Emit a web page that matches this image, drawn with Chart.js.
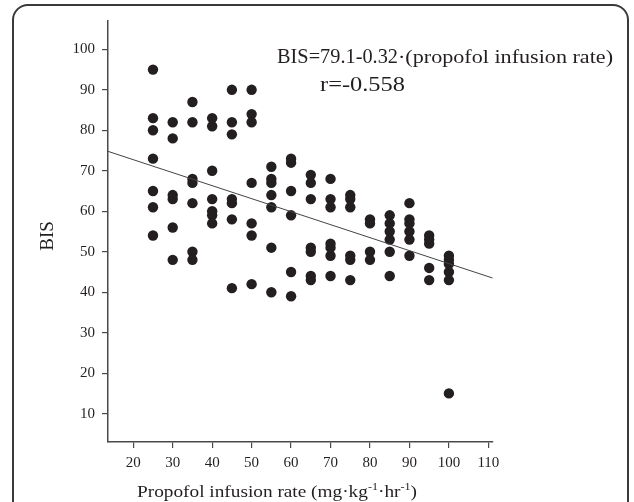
<!DOCTYPE html>
<html>
<head>
<meta charset="utf-8">
<script src="https://cdn.jsdelivr.net/npm/chart.js@4.4.1/dist/chart.umd.min.js"></script>
<style>
  html, body { margin: 0; padding: 0; background: #fff; }
  #wrap { width: 634px; height: 502px; }
</style>
</head>
<body>
<div id="wrap"><canvas id="bisChart" width="634" height="502"></canvas></div>
<script>
// --- Data ---
const rateLevels = [25, 30, 35, 40, 45, 50, 55, 60, 65, 70, 75, 80, 85, 90, 95, 100];
const bisByRate = [
  [95, 83, 80, 73, 65, 61, 54],
  [82, 78, 64, 63, 56, 48],
  [87, 82, 68, 67, 62, 50, 48],
  [83, 81, 70, 63, 60, 59, 57],
  [90, 82, 79, 63, 62, 58, 41],
  [90, 84, 82, 67, 57, 54, 42],
  [71, 68, 67, 64, 61, 51, 40],
  [73, 72, 65, 59, 45, 39],
  [69, 67, 63, 51, 50, 44, 43],
  [68, 63, 61, 52, 51, 49, 44],
  [64, 63, 61, 49, 48, 43],
  [58, 57, 50, 48],
  [59, 57, 55, 53, 50, 44],
  [62, 58, 57, 55, 53, 49],
  [54, 53, 52, 46, 43],
  [49, 48, 47, 45, 43, 15]
];
// regression line ends, as drawn
const fitLineRate = [13.6, 111.1];
const fitLineBis = [74.8, 43.5];

const xTicks = [20, 30, 40, 50, 60, 70, 80, 90, 100, 110];
const yTicks = [10, 20, 30, 40, 50, 60, 70, 80, 90, 100];

const INK = "#231f20";
const AXIS = "#4a4a4a";
const SERIF = '"Liberation Serif", "DejaVu Serif", serif';

const scatterPoints = [];
rateLevels.forEach((rate, i) => {
  bisByRate[i].forEach(v => scatterPoints.push({ x: rate, y: v }));
});
const fitPoints = fitLineRate.map((r, i) => ({ x: r, y: fitLineBis[i] }));

// draw text squeezed/stretched to a given width (the figure's font is condensed)
function fitText(ctx, parts, x, baseline, width) {
  let natural = 0;
  parts.forEach(p => {
    ctx.font = `${p.size}px ${SERIF}`;
    natural += ctx.measureText(p.text).width;
  });
  ctx.save();
  ctx.translate(x, baseline);
  ctx.scale(width / natural, 1);
  let cx = 0;
  parts.forEach(p => {
    ctx.font = `${p.size}px ${SERIF}`;
    ctx.fillText(p.text, cx, p.rise || 0);
    cx += ctx.measureText(p.text).width;
  });
  ctx.restore();
}

const decorPlugin = {
  id: "decor",
  afterDraw(chart) {
    const ctx = chart.ctx;
    ctx.save();
    // rounded frame, open at the bottom
    ctx.strokeStyle = "#3a3a3a";
    ctx.lineWidth = 2;
    ctx.beginPath();
    ctx.moveTo(13, 502);
    ctx.lineTo(13, 20);
    ctx.arcTo(13, 5, 28, 5, 15);
    ctx.lineTo(613, 5);
    ctx.arcTo(628, 5, 628, 20, 15);
    ctx.lineTo(628, 502);
    ctx.stroke();

    ctx.fillStyle = INK;
    ctx.textAlign = "left";
    ctx.textBaseline = "alphabetic";

    // equation
    fitText(ctx, [{ text: "BIS=79.1-0.32", size: 22 }], 277, 63, 121);
    fitText(ctx, [{ text: "\u00b7(propofol infusion rate)", size: 19 }], 398, 63, 215);
    fitText(ctx, [{ text: "r=-0.558", size: 22 }], 320, 91, 85);

    // x title
    fitText(ctx, [
      { text: "Propofol infusion rate (mg\u00b7kg", size: 17.5 },
      { text: "-1", size: 11, rise: -7 },
      { text: "\u00b7hr", size: 17.5 },
      { text: "-1", size: 11, rise: -7 },
      { text: ")", size: 17.5 }
    ], 137, 497, 280);

    // y title
    ctx.save();
    ctx.translate(53, 236);
    ctx.rotate(-Math.PI / 2);
    ctx.textAlign = "center";
    ctx.font = `19px ${SERIF}`;
    ctx.fillText("BIS", 0, 0);
    ctx.restore();

    ctx.restore();
  }
};

const tickFont = { family: SERIF, size: 15 };

new Chart(document.getElementById("bisChart").getContext("2d"), {
  type: "scatter",
  data: {
    datasets: [
      {
        type: "line",
        data: fitPoints,
        borderColor: "#444",
        borderWidth: 1,
        pointRadius: 0,
        fill: false
      },
      {
        data: scatterPoints,
        backgroundColor: INK,
        borderWidth: 0,
        pointRadius: 5.2,
        pointHoverRadius: 5.2
      }
    ]
  },
  options: {
    responsive: false,
    animation: false,
    devicePixelRatio: 1,
    layout: { padding: { top: 21, right: 141.3, left: 0, bottom: 0 } },
    plugins: { legend: { display: false }, tooltip: { enabled: false } },
    scales: {
      x: {
        type: "linear",
        min: 13.6,
        max: 111.1,
        afterBuildTicks: s => { s.ticks = xTicks.map(v => ({ value: v })); },
        afterFit: s => { s.height = 60; },
        ticks: { font: tickFont, color: INK, padding: 6, maxRotation: 0, autoSkip: false },
        grid: { drawOnChartArea: false, tickLength: 6, color: AXIS, lineWidth: 1.2 },
        border: { color: AXIS, width: 1.5 }
      },
      y: {
        min: 3,
        max: 107,
        afterBuildTicks: s => { s.ticks = yTicks.map(v => ({ value: v })); },
        afterFit: s => { s.width = 108; },
        ticks: { font: tickFont, color: INK, padding: 7, autoSkip: false },
        grid: { drawOnChartArea: false, tickLength: 6, color: AXIS, lineWidth: 1.2 },
        border: { color: AXIS, width: 1.5 }
      }
    }
  },
  plugins: [decorPlugin]
});
</script>
</body>
</html>
